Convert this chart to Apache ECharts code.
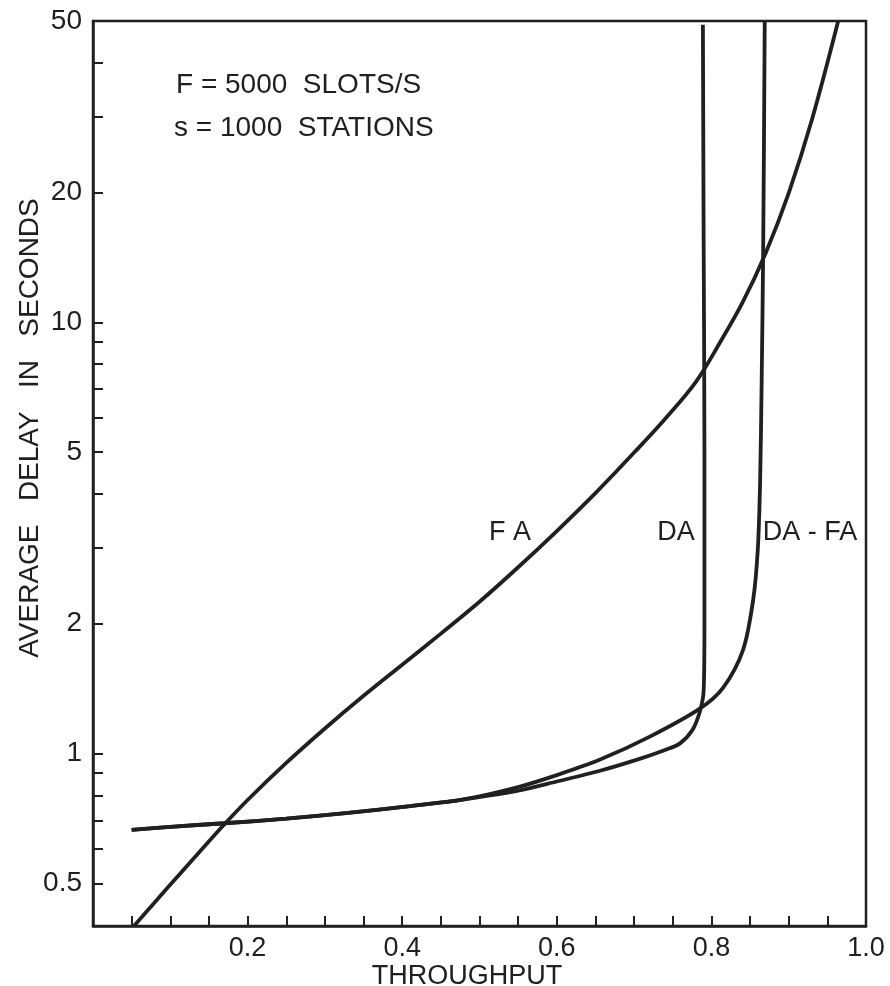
<!DOCTYPE html>
<html>
<head>
<meta charset="utf-8">
<script src="https://cdn.jsdelivr.net/npm/echarts@6/dist/echarts.min.js"></script>
<style>html,body{margin:0;padding:0;background:#fff}#c{width:890px;height:986px}</style>
</head>
<body>
<div id="c"></div>
<script>
// ---- data ----
const faX = [0.053, 0.08, 0.11, 0.14, 0.167, 0.20, 0.25, 0.30, 0.35, 0.40, 0.45, 0.50, 0.55, 0.60, 0.65, 0.70, 0.74, 0.78, 0.81, 0.84, 0.87, 0.90, 0.93, 0.964];
const faY = [0.398, 0.452, 0.520, 0.597, 0.676, 0.780, 0.951, 1.143, 1.361, 1.607, 1.897, 2.249, 2.704, 3.281, 4.018, 4.989, 5.97, 7.28, 8.91, 11.09, 14.45, 19.95, 29.5, 50];
const daX = [0.05, 0.10, 0.17, 0.25, 0.33, 0.41, 0.48, 0.55, 0.60, 0.656, 0.708, 0.74, 0.759, 0.775, 0.785, 0.79, 0.791, 0.791, 0.79, 0.789];
const daY = [0.665, 0.676, 0.689, 0.706, 0.728, 0.755, 0.783, 0.820, 0.861, 0.912, 0.973, 1.019, 1.054, 1.13, 1.25, 1.40, 2, 5, 15, 49];
const dafaX = [0.05, 0.10, 0.17, 0.25, 0.33, 0.41, 0.48, 0.55, 0.60, 0.656, 0.721, 0.785, 0.815, 0.841, 0.854, 0.86, 0.863, 0.865, 0.867, 0.869];
const dafaY = [0.665, 0.676, 0.689, 0.706, 0.728, 0.755, 0.783, 0.836, 0.891, 0.968, 1.096, 1.271, 1.42, 1.74, 2.27, 2.97, 4.25, 7.25, 14.8, 50];
const yLabelValues = [0.5, 1, 2, 5, 10, 20, 50];
const yTickValues = [0.5, 0.6, 0.7, 0.8, 0.9, 1, 2, 3, 4, 5, 6, 7, 8, 9, 10, 20, 30, 40, 50];
const xLabelValues = [0.2, 0.4, 0.6, 0.8, 1.0];

const INK = '#202020';
const FONT = "'Liberation Sans', Arial, sans-serif";
const zip = (xs, ys) => xs.map((x, i) => [x, ys[i]]);

const chart = echarts.init(document.getElementById('c'), null, {renderer: 'canvas'});
const lineStyle = {color: INK, width: 3.8};
chart.setOption({
  animation: false,
  backgroundColor: '#fff',
  grid: {left: 93, top: 21, right: 24, bottom: 60, show: true, borderColor: INK, borderWidth: 2.5},
  xAxis: {
    type: 'value', min: 0, max: 1, interval: 0.05,
    axisLine: {lineStyle: {color: INK, width: 2.5}},
    axisTick: {inside: true, length: 10, lineStyle: {color: INK, width: 2}},
    splitLine: {show: false},
    axisLabel: {
      interval: 0, color: INK, fontFamily: FONT, fontSize: 27, margin: 9,
      formatter: v => xLabelValues.some(t => Math.abs(t - v) < 1e-6) ? v.toFixed(1) : ''
    }
  },
  yAxis: {
    type: 'log', logBase: 10, min: 0.398, max: 50,
    axisLine: {lineStyle: {color: INK, width: 2.5}},
    axisTick: {inside: true, length: 10, customValues: yTickValues, lineStyle: {color: INK, width: 2}},
    splitLine: {show: false},
    minorTick: {show: false},
    axisLabel: {color: INK, fontFamily: FONT, fontSize: 28, margin: 11, customValues: yLabelValues,
      formatter: v => String(+(+v).toPrecision(3))}
  },
  series: [
    {name: 'FA', type: 'line', data: zip(faX, faY), showSymbol: false, smooth: 0.35, lineStyle, clip: true},
    {name: 'DA', type: 'line', data: zip(daX, daY), showSymbol: false, smooth: 0.3, lineStyle, clip: true},
    {name: 'DA-FA', type: 'line', data: zip(dafaX, dafaY), showSymbol: false, smooth: 0.3, lineStyle, clip: true}
  ],
  graphic: [
    {type: 'text', x: 176, y: 85, style: {text: 'F = 5000  SLOTS/S', font: `28px ${FONT}`, fill: INK, verticalAlign: 'middle'}},
    {type: 'text', x: 174, y: 128, style: {text: 's = 1000  STATIONS', font: `28px ${FONT}`, fill: INK, verticalAlign: 'middle'}},
    {type: 'text', x: 510, y: 533, style: {text: 'F A', font: `27px ${FONT}`, fill: INK, align: 'center', verticalAlign: 'middle'}},
    {type: 'text', x: 676, y: 533, style: {text: 'DA', font: `27px ${FONT}`, fill: INK, align: 'center', verticalAlign: 'middle'}},
    {type: 'text', x: 810, y: 533, style: {text: 'DA - FA', font: `27px ${FONT}`, fill: INK, align: 'center', verticalAlign: 'middle'}},
    {type: 'text', x: 30, y: 428, rotation: Math.PI / 2, style: {text: 'AVERAGE   DELAY   IN   SECONDS', font: `28px ${FONT}`, fill: INK, align: 'center', verticalAlign: 'middle'}},
    {type: 'text', x: 467, y: 977, style: {text: 'THROUGHPUT', font: `27px ${FONT}`, fill: INK, align: 'center', verticalAlign: 'middle'}}
  ]
});
</script>
</body>
</html>
